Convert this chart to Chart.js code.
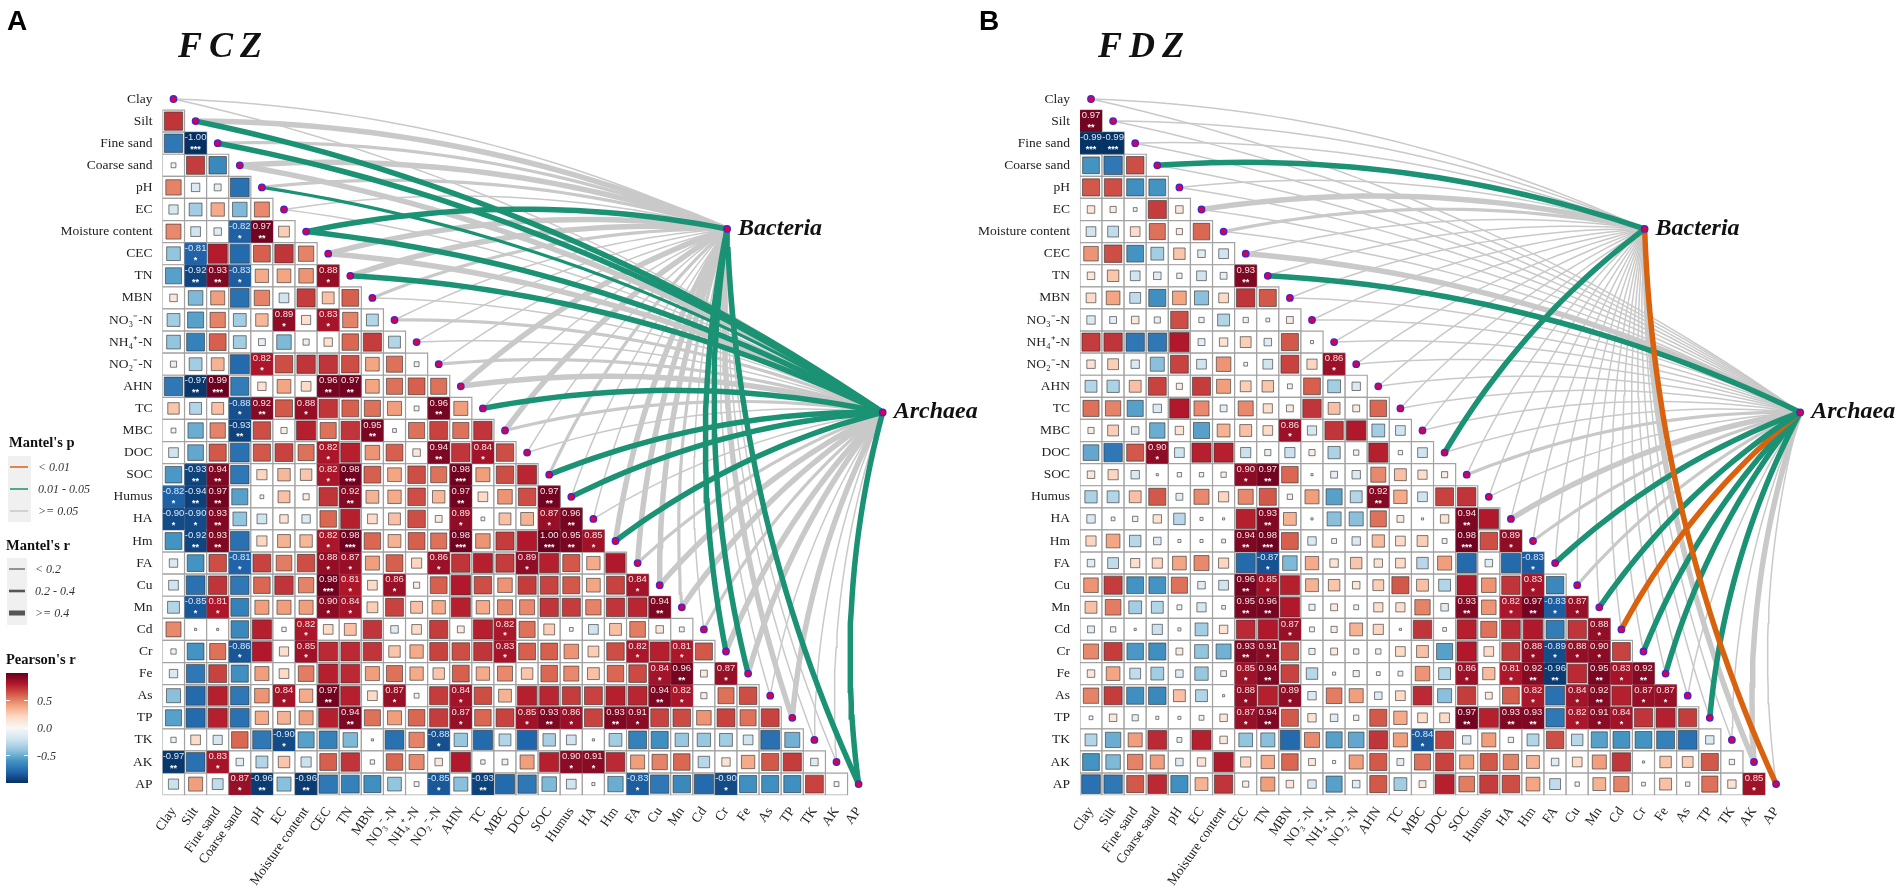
<!DOCTYPE html>
<html><head><meta charset="utf-8">
<style>html,body{margin:0;padding:0;background:#fff;width:1902px;height:892px;overflow:hidden}
canvas{position:absolute;top:0}</style>
<script src="https://cdn.jsdelivr.net/npm/chart.js@4"></script></head>
<body><canvas id="a" width="1010" height="892" style="left:0"></canvas><canvas id="b" width="951" height="892" style="left:951px"></canvas>
<script>
const variables=["Clay","Silt","Fine sand","Coarse sand","pH","EC","Moisture content","CEC","TN","MBN","NO₃⁻-N","NH₄⁺-N","NO₂⁻-N","AHN","TC","MBC","DOC","SOC","Humus","HA","Hm","FA","Cu","Mn","Cd","Cr","Fe","As","TP","TK","AK","AP"];
const fczR=[[],
[.72],
[-.72,-1.00],
[.05,.7,-.65],
[.5,-.15,-.1,-.75],
[-.18,-.35,.38,-.45,.48],
[.48,-.2,-.12,-.82,.97,.25],
[-.4,-.81,.79,-.78,.6,.72,.5],
[-.55,-.92,.93,-.83,.38,.4,.45,.88],
[.12,-.45,.42,-.75,.5,-.2,.7,.3,.6],
[-.35,-.55,.5,-.35,.33,.89,.18,.83,.5,-.3],
[-.4,-.68,.6,-.35,-.1,-.45,-.08,.15,.58,.7,-.3],
[-.08,-.35,.35,-.78,.82,.65,.72,.72,.65,.4,.55,-.05],
[-.72,-.97,.99,-.7,.15,.4,.2,.96,.97,.4,.55,.6,.55],
[.28,-.3,.3,-.88,.92,.62,.88,.72,.6,.55,.42,-.05,.96,.42],
[-.05,-.5,.5,-.93,.65,.08,.78,.55,.72,.95,-.03,.55,.68,.55,.72],
[-.2,-.52,.62,-.75,.62,.68,.55,.82,.78,.45,.6,.12,.94,.72,.84,.65],
[-.58,-.93,.94,-.72,.22,.33,.28,.82,.98,.6,.4,.65,.55,.98,.42,.65,.76],
[-.82,-.94,.97,-.55,.03,.3,.08,.72,.92,.35,.38,.65,.33,.97,.2,.45,.65,.97],
[-.90,-.90,.93,-.4,-.2,.15,-.15,.58,.78,.2,.3,.65,.1,.89,-.03,.3,.35,.87,.96],
[-.6,-.92,.93,-.75,.22,.35,.33,.82,.98,.58,.35,.6,.55,.98,.45,.7,.8,1.00,.95,.85],
[-.15,-.6,.65,-.81,.68,.52,.65,.88,.87,.42,.6,.22,.86,.72,.78,.7,.89,.78,.62,.38,.8],
[-.2,-.75,.72,-.72,.58,.72,.5,.98,.81,.2,.86,.08,.6,.8,.65,.45,.7,.68,.62,.4,.68,.84],
[-.3,-.85,.81,-.68,.42,.42,.42,.90,.84,.25,.68,.3,.38,.78,.38,.48,.48,.72,.7,.5,.72,.76,.94],
[.48,-.01,-.01,-.65,.78,-.04,.82,.2,.3,.72,-.12,.2,.7,.1,.78,.82,.55,.25,-.03,-.2,.3,.52,.12,-.05],
[-.06,-.6,.55,-.86,.8,.18,.85,.75,.75,.72,.28,.38,.68,.65,.72,.83,.6,.6,.45,.25,.65,.82,.78,.81,.62],
[-.15,-.72,.68,-.62,.42,.2,.52,.78,.75,.42,.55,.38,.28,.6,.38,.48,.28,.58,.48,.3,.58,.66,.84,.96,.1,.87],
[-.42,-.78,.78,-.72,.45,.84,.38,.97,.78,.2,.87,.05,.7,.84,.65,.35,.78,.76,.7,.68,.78,.76,.94,.82,.08,.55,.65],
[-.55,-.78,.78,-.75,.38,.35,.42,.78,.94,.55,.42,.58,.7,.87,.58,.68,.85,.93,.86,.68,.93,.91,.68,.66,.45,.68,.55,.68],
[-.06,.2,-.18,.58,-.72,-.90,-.55,-.68,-.45,-.01,-.75,.5,-.88,-.38,-.78,-.3,-.8,-.33,-.2,-.01,-.35,-.68,-.62,-.38,-.38,-.35,-.2,-.75,-.48],
[-.97,-.75,.83,-.12,-.3,.28,-.22,.6,.72,-.04,.58,.48,.12,.8,-.04,-.07,.42,.78,.90,.91,.75,.42,.5,.58,-.28,.15,.38,.62,.7,-.12],
[-.22,.42,-.25,.87,-.96,-.42,-.96,-.72,-.68,-.62,-.4,-.05,-.85,-.42,-.93,-.78,-.72,-.45,-.2,-.02,-.5,-.83,-.72,-.65,-.78,-.90,-.62,-.62,-.62,.68,-.05]];
const fdzR=[[],
[.97],
[-.99,-.99],
[-.6,-.72,.65],
[.62,.65,-.62,-.6],
[.12,.08,-.03,.7,.12],
[-.2,-.25,.2,.55,.08,.58],
[.45,.65,-.6,-.35,.28,-.12,-.2],
[.12,.28,-.2,-.12,.06,-.2,-.1,.93],
[.2,.4,-.25,-.62,.4,-.42,.2,.72,.62],
[-.15,-.1,.12,-.08,.65,-.06,-.3,-.06,-.03,.1],
[.7,.72,-.72,-.72,.8,-.1,.15,.25,-.12,.62,-.02],
[.15,.25,-.15,-.42,.68,-.2,.45,-.03,-.2,.68,.22,.86],
[-.3,-.32,.3,.68,.08,.7,.42,.25,.28,.05,.6,-.35,-.15],
[.55,.5,-.55,-.15,.8,.48,-.1,.48,.18,.1,.72,.3,.1,.58],
[.08,.25,-.12,-.5,.15,-.55,.35,.3,.2,.86,-.18,.72,.8,-.35,-.2],
[-.52,-.72,.62,.90,-.2,.78,.78,-.22,-.08,-.22,.08,-.32,-.06,.78,-.04,-.2],
[.12,.22,-.15,-.01,-.04,-.04,.06,.90,.97,.58,-.01,-.1,-.15,.48,.3,.18,.08],
[-.32,-.3,.3,.62,-.1,.48,.22,.48,.62,.06,.42,-.55,-.3,.92,.38,-.2,.68,.72],
[-.15,-.03,.06,.15,-.28,-.02,-.01,.78,.93,.35,-.01,-.42,-.42,.55,.1,-.01,.15,.94,.8],
[.22,.4,-.28,-.12,-.02,-.02,-.03,.94,.98,.6,-.15,-.05,-.15,.32,.2,.25,-.05,.98,.65,.89],
[-.12,-.25,.18,.22,.4,.48,.22,-.78,-.87,-.45,.38,.15,.28,.15,.2,-.28,.42,-.78,-.12,-.78,-.83],
[.45,.7,-.6,-.6,.55,-.12,-.2,.96,.85,.78,.35,.28,.12,.25,.62,.3,-.3,.8,.45,.72,.83,-.65],
[.3,.52,-.35,-.3,-.05,-.18,-.03,.95,.96,.8,-.08,.1,-.05,.18,.18,.5,-.12,.93,.45,.82,.97,-.83,.87],
[-.1,-.06,-.01,-.22,-.02,-.35,.15,.75,.8,.87,-.05,.08,.35,.22,-.01,.72,-.03,.78,.55,.75,.8,-.7,.72,.88],
[.48,.7,-.58,-.62,.1,-.4,-.48,.93,.91,.65,-.08,.1,-.06,-.06,.2,.3,-.55,.8,.2,.7,.88,-.89,.88,.90,.68],
[.12,.4,-.25,-.35,-.12,-.38,-.07,.85,.94,.68,-.28,-.02,-.08,-.03,-.05,.45,-.3,.86,.32,.81,.92,-.96,.75,.95,.83,.92],
[.5,.7,-.62,-.65,.3,-.3,-.01,.88,.78,.89,-.15,.52,.42,-.12,.2,.75,-.42,.7,.1,.6,.82,-.75,.84,.92,.78,.87,.87],
[-.03,.12,-.08,-.02,-.02,-.05,.12,.87,.94,.62,.15,-.12,-.06,.62,.38,.2,.2,.97,.78,.93,.93,-.72,.82,.91,.84,.72,.78,.7],
[-.3,-.5,.42,.75,-.05,.78,.12,-.4,-.42,-.78,.48,-.55,-.52,.72,.42,-.84,.68,-.15,.42,-.06,-.3,.65,-.28,-.55,-.6,-.6,-.68,-.75,-.15],
[-.6,-.45,.5,.42,-.12,.15,.8,.22,.38,.58,.1,-.02,.42,.62,-.1,.55,.68,.42,.62,.5,.35,-.12,.2,.42,.72,-.01,.28,.25,.62,-.06],
[-.75,-.72,.62,.75,-.62,.35,.72,.08,.42,.12,-.15,-.55,-.12,.62,-.35,.1,.78,.52,.7,.65,.4,-.25,.04,.35,.5,-.03,.3,-.04,.55,.15,.85]];
// Mantel's r class per variable: 1 (<0.2), 2 (0.2-0.4), 3 (>=0.4)
const fczBacteriaR=[1,3,2,3,2,1,3,3,3,2,1,1,1,3,1,3,1,2,1,1,3,3,3,2,1,3,3,1,3,1,1,3];
const fczArchaeaR=[1,3,3,3,2,1,3,3,3,1,2,1,2,3,3,2,1,3,3,1,3,2,3,3,2,3,3,1,3,1,1,3];
const fdzBacteriaR=[1,1,1,3,1,3,2,1,1,1,1,1,1,1,1,1,3,1,1,1,1,1,1,1,1,1,1,1,1,1,3,3];
const fdzArchaeaR=[1,1,1,1,1,1,1,3,3,1,1,1,1,1,1,1,1,2,1,3,2,3,2,3,3,3,3,1,3,1,3,1];
// Mantel's p class per variable: 0 (>=0.05), 1 (0.01-0.05), 2 (<0.01)
const fczBacteriaP=[0,0,0,0,0,0,1,0,0,0,0,0,0,0,0,0,0,0,0,0,0,0,0,0,0,1,1,0,0,0,0,1];
const fczArchaeaP=[0,1,1,0,1,0,1,0,1,0,0,0,0,0,1,0,0,1,1,0,1,0,0,0,0,0,0,0,0,0,0,1];
const fdzBacteriaP=[0,0,0,1,0,0,0,0,0,0,0,0,0,0,0,0,1,0,0,0,0,0,0,0,0,0,0,0,0,0,0,2];
const fdzArchaeaP=[0,0,0,0,0,0,0,0,1,0,0,0,0,0,0,0,0,0,0,0,0,1,0,1,2,1,1,0,1,0,0,0];
const specNames=["Bacteria","Archaea"];
const pLegend=["< 0.01","0.01 - 0.05",">= 0.05"];
const rLegend=["< 0.2","0.2 - 0.4",">= 0.4"];
const cbTicks=[0.5,0.0,-0.5];

const CELL=22.1, TOP=87.95, SERIF='"Liberation Serif"', SANS='"Liberation Sans"';
const specPos=[[25.05,5.88],[32.09,14.18]];
const stops=[[-1,[5,48,97]],[-.8,[33,102,172]],[-.6,[67,147,195]],[-.4,[146,197,222]],[-.2,[209,229,240]],[0,[247,247,247]],[.2,[253,219,199]],[.4,[244,165,130]],[.6,[214,96,77]],[.8,[178,24,43]],[1,[103,0,31]]];
function rd(v){for(let i=1;i<stops.length;i++){if(v<=stops[i][0]){const a=stops[i-1],b=stops[i],t=(v-a[0])/(b[0]-a[0]);
 return 'rgb('+a[1].map((c,k)=>Math.round(c+(b[1][k]-c)*t)).join(',')+')';}}return 'rgb(103,0,31)';}
const LW={1:1.5,2:3.2,3:5.5}, EC=['#c9c9c9','#1a9273','#d9620f'];
function curve(i,s){const x0=i,y0=i,x2=s[0],y2=s[1],dx=x2-x0,dy=y2-y0,cx=(x0+x2)/2+.1*dy,cy=(y0+y2)/2-.1*dx,pts=[];
 for(let k=0;k<=28;k++){const t=k/28,u=1-t;pts.push({x:u*u*x0+2*u*t*cx+t*t*x2,y:u*u*y0+2*u*t*cy+t*t*y2});}return pts;}
function panel(id,W,left,rows,bR,aR,bP,aP,title,letter,tx,lx,withLegend){
 const ds=[];
 [[bR,bP,specPos[0]],[aR,aP,specPos[1]]].forEach(([R,P,s])=>{variables.forEach((_,i)=>{
   ds.push({type:'scatter',showLine:true,data:curve(i,s),borderColor:EC[P[i]],borderWidth:LW[R[i]],pointRadius:0,tension:0,order:P[i]?3:4,fill:false});});});
 const cells=[],vals=[];
 rows.forEach((row,i)=>row.forEach((v,j)=>{cells.push({x:j,y:i});vals.push(v);}));
 const lab=v=>Math.abs(v)>.805;
 ds.push({type:'scatter',data:cells,pointStyle:'rect',pointRadius:(CELL)/Math.SQRT2,backgroundColor:'#fff',borderColor:'#a2a2a2',borderWidth:1.2,order:2});
 ds.push({type:'scatter',data:cells.map(c=>({x:c.x,y:c.y})),pointStyle:'rect',
   pointRadius:vals.map(v=>(lab(v)?CELL-1:Math.sqrt(Math.abs(v))*CELL*.98)/Math.SQRT2),
   backgroundColor:vals.map(rd),borderColor:vals.map(v=>lab(v)?rd(v):'rgba(50,50,50,.62)'),borderWidth:1,order:1});
 const dots=variables.map((_,i)=>({x:i,y:i})).concat(specPos.map(s=>({x:s[0],y:s[1]})));
 ds.push({type:'scatter',data:dots,pointStyle:'circle',pointRadius:3.2,backgroundColor:'#e0003c',borderColor:'#4a22d2',borderWidth:1.4,order:0});
 const overlay={id:'ov'+id,afterDatasetsDraw(ch){const c=ch.ctx,X=ch.scales.x,Y=ch.scales.y;c.save();
   c.textAlign='center';
   rows.forEach((row,i)=>row.forEach((v,j)=>{if(!lab(v))return;const px=X.getPixelForValue(j),py=Y.getPixelForValue(i);
     c.fillStyle=v<0?'#d8e8fb':'#f6e6e6';c.font='9.5px '+SANS;c.textBaseline='middle';c.fillText(v.toFixed(2),px,py-5.5);
     const a=Math.abs(v),st=a>=.975?'***':a>=.915?'**':'*';
     c.fillStyle='#fff';c.font='bold 9px '+SANS;c.fillText(st,px,py+6.5);}));
   c.textBaseline='alphabetic';c.fillStyle='#111';c.font='italic bold 24px '+SERIF;c.textAlign='left';
   specNames.forEach((n,k)=>{c.fillText(n,X.getPixelForValue(specPos[k][0])+11,Y.getPixelForValue(specPos[k][1])+6);});
   c.font='italic bold 36px '+SERIF;c.letterSpacing='7px';c.fillText(title,tx,57);c.letterSpacing='0px';
   c.font='bold 28px '+SANS;c.fillStyle='#000';c.fillText(letter,lx,30);
   if(withLegend){
     c.font='bold 14.5px '+SERIF;c.fillStyle='#111';c.fillText("Mantel's p",9,447);c.fillText("Mantel's r",6,550);c.fillText("Pearson's r",6,664);
     c.fillStyle='#f0f0f0';c.fillRect(8,456,23,66);c.fillRect(7,558,20,67);
     c.font='italic 12px '+SERIF;
     ['#d9620f','#1a9273','#c9c9c9'].forEach((e,k)=>{const y=467+22*k;c.strokeStyle=e;c.lineWidth=1.5;c.beginPath();c.moveTo(10,y);c.lineTo(28,y);c.stroke();c.fillStyle='#333';c.fillText(pLegend[k],38,y+4);});
     [1.2,2.6,5].forEach((w,k)=>{const y=569+22*k;c.strokeStyle='#555';c.lineWidth=w;c.beginPath();c.moveTo(9,y);c.lineTo(25,y);c.stroke();c.fillStyle='#333';c.fillText(rLegend[k],35,y+4);});
     const top=673,h=110,g=c.createLinearGradient(0,top,0,top+h);
     stops.forEach(s=>g.addColorStop((1-s[0])/2,'rgb('+s[1].join(',')+')'));
     c.fillStyle=g;c.fillRect(6,top,22,h);
     cbTicks.forEach(t=>{const y=top+h*(1-t)/2;c.strokeStyle='#fff';c.lineWidth=1;c.beginPath();c.moveTo(6,y);c.lineTo(10,y);c.moveTo(24,y);c.lineTo(28,y);c.stroke();c.fillStyle='#333';c.font='italic 12px '+SERIF;c.fillText(t.toFixed(1),37,y+4);});
   }
   c.restore();}};
 const lblFont={family:SERIF,size:13.5};
 new Chart(document.getElementById(id),{type:'scatter',data:{datasets:ds},plugins:[overlay],options:{
   responsive:false,animation:false,layout:{autoPadding:false,padding:{top:TOP,left:0,right:0,bottom:0}},
   plugins:{legend:{display:false},tooltip:{enabled:false},title:{display:false}},
   scales:{
    x:{type:'linear',min:-.5,max:(W-left)/CELL-.5,grid:{display:false,drawTicks:false},border:{display:false},
      afterBuildTicks:s=>{s.ticks=variables.map((_,i)=>({value:i}));},
      afterFit:s=>{s.height=892-(TOP+32*CELL);s.paddingLeft=0;s.paddingRight=0;},
      ticks:{autoSkip:false,minRotation:55,maxRotation:55,padding:9,color:'#222',font:lblFont,callback:v=>variables[v]}},
    y:{type:'linear',reverse:true,min:-.5,max:31.5,grid:{display:false,drawTicks:false},border:{display:false},
      afterBuildTicks:s=>{s.ticks=variables.map((_,i)=>({value:i}));},
      afterFit:s=>{s.width=left;s.paddingTop=0;s.paddingBottom=0;},
      ticks:{autoSkip:false,padding:10,color:'#222',font:lblFont,callback:v=>variables[v]}}
   }}});
}
panel('a',1010,162.45,fczR,fczBacteriaR,fczArchaeaR,fczBacteriaP,fczArchaeaP,'FCZ','A',178,7,true);
panel('b',951,128.95,fdzR,fdzBacteriaR,fdzArchaeaR,fdzBacteriaP,fdzArchaeaP,'FDZ','B',147,28,false);
</script></body></html>
